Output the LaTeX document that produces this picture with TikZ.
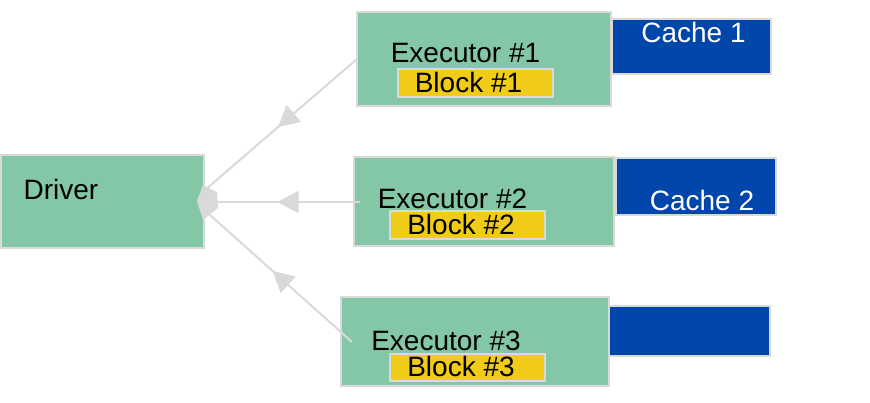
\documentclass[tikz,border=0pt]{standalone}
\usepackage{fontspec}
\setmainfont{Liberation Sans}
\usetikzlibrary{arrows.meta,decorations.markings}
\definecolor{boxgreen}{RGB}{132,199,166}
\definecolor{blkyellow}{RGB}{240,203,24}
\definecolor{cacheblue}{RGB}{0,70,171}
\definecolor{edgegray}{RGB}{217,217,217}

\begin{document}
\begin{tikzpicture}[x=0.5pt,y=-0.5pt,
  box/.style={draw=edgegray,line width=0.8pt,inner sep=0pt,outer sep=0pt},
  exec/.style={box,fill=boxgreen},
  blk/.style={box,fill=blkyellow,minimum width=77.5pt,minimum height=14pt},
  cache/.style={box,fill=cacheblue},
  lbl/.style={anchor=base,inner sep=0pt,font=\fontsize{14}{16}\selectfont},
  feed/.style={draw=edgegray,line width=1pt,postaction={decorate},
    decoration={markings,mark=at position #1 with {\arrow{Triangle[length=10.5pt,width=11pt]}}}},
  feed/.default=0.5]

\useasboundingbox (0,0) rectangle (870,402);

\node[exec,minimum width=101.5pt,minimum height=46.5pt] (drv) at (102.5,201.5) {};
\node[exec,minimum width=127pt,minimum height=47pt]   (e1) at (484,59) {};
	\node[exec,minimum width=130pt,minimum height=44.5pt] (e2) at (484,201.5) {};
	\node[exec,minimum width=134pt,minimum height=44.5pt] (e3) at (475,341.5) {};

\node[blk] (b1) at (475.5,83) {};
\node[blk] (b2) at (467.5,225) {};
\node[blk,minimum height=13.5pt] (b3) at (467.5,367.5) {};

\node[cache,minimum width=79.5pt,minimum height=27.5pt] (c1) at (691.5,46.5) {};
\node[cache,minimum width=80pt,minimum height=28.5pt]   (c2) at (696,186.5) {};
\node[cache,minimum width=80.5pt,minimum height=25pt]   (c3) at (689.5,331) {};

% texts
\node[lbl] (tdrv) at (61,199) {Driver};
\node[lbl] (te1) at (465.5,62) {Executor \#1};
\node[lbl] (te2) at (452.5,208) {Executor \#2};
\node[lbl] (te3) at (446,350) {Executor \#3};
\node[lbl] (tb1) at (468.5,92) {Block \#1};
\node[lbl] (tb2) at (461,234) {Block \#2};
\node[lbl] (tb3) at (461,376) {Block \#3};
\node[lbl,text=white] (tc1) at (693.5,42) {Cache 1};
\node[lbl,text=white] (tc2) at (702,210) {Cache 2};

% line ends at the driver
\coordinate (h1) at (205,190);
\coordinate (h2) at (210,202);
\coordinate (h3) at (210,215);
\coordinate (s2) at (360,202);
\coordinate (s3) at (352,342);

\path[feed=0.52] (e1.west) -- (h1);
\path[feed=0.55] (s2) -- (h2);
\path[feed=0.56] (s3) -- (h3);

\fill[edgegray] (197,201) -- (203,185) -- (217,192) -- (218,208) -- (203,220) -- cycle;

\end{tikzpicture}
\end{document}
